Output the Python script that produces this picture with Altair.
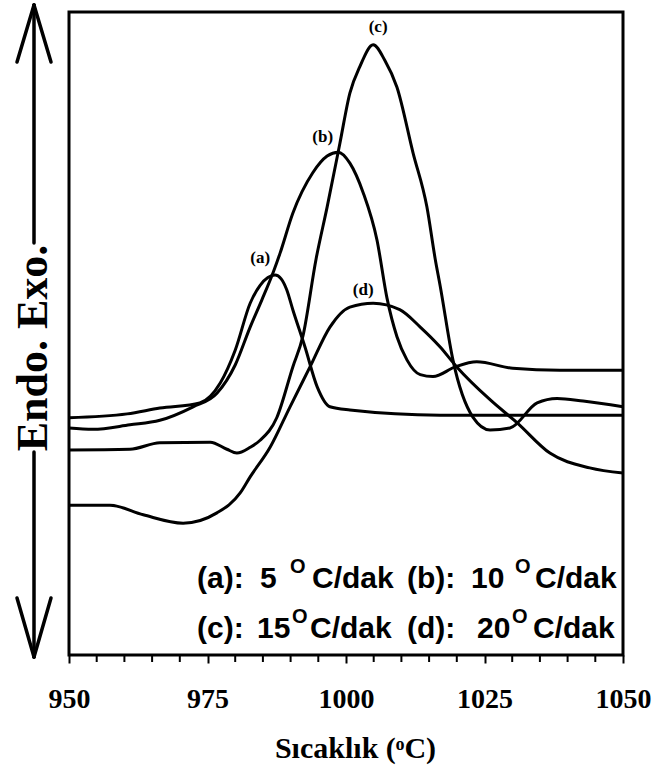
import altair as alt
import pandas as pd

# ---- data (temperature in °C, heat flow in arbitrary units) ----
a_T = [950.0, 960.5, 966.4, 973.6, 977.3, 980.0, 982.7, 984.5, 985.9, 987.2, 988.3, 989.3, 990.4, 992.6, 994.8, 997.1, 1000.7, 1017.0, 1050.0]
a_v = [36.9, 37.5, 38.4, 39.2, 42.3, 47.4, 54.7, 57.5, 58.7, 59.1, 58.5, 56.8, 53.7, 47.9, 41.7, 38.6, 38.1, 37.3, 37.3]

b_T = [950.0, 954.3, 961.0, 966.4, 972.4, 976.7, 980.0, 982.7, 984.8, 986.9, 988.1, 990.4, 994.0, 996.6, 998.6, 1000.7, 1003.1, 1005.6, 1007.4, 1009.2, 1011.0, 1013.4, 1015.7, 1019.7, 1023.6, 1030.1, 1038.6, 1050.0]
b_v = [35.3, 35.1, 35.8, 36.5, 38.6, 40.7, 45.1, 51.0, 55.2, 59.6, 62.5, 68.7, 75.0, 77.6, 78.2, 76.5, 71.9, 64.5, 55.5, 49.5, 45.9, 43.6, 43.3, 44.8, 45.6, 44.6, 44.3, 44.3]

c_T = [950.0, 961.0, 966.4, 975.5, 978.5, 980.3, 982.7, 984.5, 987.5, 990.4, 992.2, 994.6, 996.6, 998.9, 1000.7, 1002.5, 1004.9, 1007.0, 1009.2, 1012.1, 1014.6, 1016.1, 1017.0, 1019.3, 1022.9, 1026.0, 1029.6, 1034.5, 1038.1, 1042.8, 1050.0]
c_v = [31.9, 32.0, 33.0, 33.1, 32.0, 31.4, 32.3, 33.4, 36.9, 44.8, 49.5, 61.6, 69.7, 79.6, 87.4, 91.5, 94.9, 92.5, 88.3, 78.1, 69.7, 61.6, 57.4, 45.9, 37.0, 35.0, 35.3, 39.2, 39.9, 39.5, 38.6]

d_T = [950.0, 957.4, 963.4, 970.6, 976.7, 980.9, 982.7, 986.3, 989.9, 993.5, 997.1, 1000.7, 1004.9, 1009.7, 1013.4, 1017.0, 1020.0, 1026.0, 1030.9, 1036.8, 1044.0, 1050.0]
d_v = [23.3, 23.3, 21.8, 20.5, 22.1, 25.2, 27.7, 32.3, 38.6, 44.8, 51.0, 54.1, 54.7, 53.7, 51.0, 47.9, 44.8, 39.7, 36.1, 31.4, 29.1, 28.3]

peak_labels = ["(a)", "(b)", "(c)", "(d)"]
peak_label_T = [984.5, 995.8, 1005.8, 1003.1]
peak_label_v = [61.7, 80.6, 97.7, 56.8]

major_ticks = [950, 975, 1000, 1025, 1050]
minor_ticks = [t for t in range(950, 1051, 5) if t % 25 != 0]

# ---- tables ----
rows = []
for name, T, v in (("a", a_T, a_v), ("b", b_T, b_v), ("c", c_T, c_v), ("d", d_T, d_v)):
    for t, val in zip(T, v):
        rows.append({"series": name, "T": t, "v": val})
df = pd.DataFrame(rows)
lab_df = pd.DataFrame({"label": peak_labels, "T": peak_label_T, "v": peak_label_v})
minor_df = pd.DataFrame({"T": minor_ticks})

xscale = alt.Scale(domain=[950, 1050], nice=False, zero=False)
yscale = alt.Scale(domain=[0, 100], nice=False, zero=False)

major_axis = alt.Axis(
    values=major_ticks, orient="bottom", format="d", tickSize=8, tickWidth=2, tickColor="black",
    domain=False, grid=False, labelFont="Liberation Serif", labelFontWeight="bold",
    labelFontSize=28, labelColor="black", labelPadding=22, labelFlush=False,
    title="Sıcaklık (ᵒC)", titleFont="Liberation Serif", titleFontWeight="bold",
    titleFontSize=30, titleColor="black", titleX=286, titleY=102,
    titleBaseline="alphabetic", titleAlign="center",
)

curves = alt.Chart(df).mark_line(color="black", strokeWidth=3, interpolate="monotone").encode(
    x=alt.X("T:Q", scale=xscale, axis=major_axis),
    y=alt.Y("v:Q", scale=yscale, axis=None),
    detail="series:N",
)

minor = alt.Chart(minor_df).mark_rule(color="black", strokeWidth=2).encode(
    x=alt.X("T:Q", scale=xscale, axis=None),
    y=alt.value(643),
    y2=alt.value(650),
)

labels = alt.Chart(lab_df).mark_text(
    font="Liberation Serif", fontWeight="bold", fontSize=17, color="black",
    align="center", baseline="middle",
).encode(
    x=alt.X("T:Q", scale=xscale, axis=None),
    y=alt.Y("v:Q", scale=yscale, axis=None),
    text="label:N",
)

one = pd.DataFrame({"k": [0]})


def txt(s, x, y, size, align="left", font="Liberation Sans", angle=0, baseline="alphabetic"):
    kw = dict(text=s, font=font, fontWeight="bold", fontSize=size, color="black",
              align=align, baseline=baseline)
    if angle:
        kw["angle"] = angle
    return alt.Chart(one).mark_text(**kw).encode(x=alt.value(x), y=alt.value(y))


def seg(x1, y1, x2, y2):
    return alt.Chart(one).mark_rule(color="black", strokeWidth=3.5, strokeCap="round").encode(
        x=alt.value(x1), y=alt.value(y1), x2=alt.value(x2), y2=alt.value(y2))


legend_parts = [
    txt("(a):", 128, 576, 30),
    txt("5", 191, 576, 30),
    txt("O", 221, 561, 20),
    txt("C/dak", 243, 576, 30),
    txt("(b):", 338, 576, 30),
    txt("10", 402, 576, 30),
    txt("O", 446, 561, 20),
    txt("C/dak", 466, 576, 30),
    txt("(c):", 128, 626, 30),
    txt("15", 188, 626, 30),
    txt("O", 223, 611, 20),
    txt("C/dak", 241, 626, 30),
    txt("(d):", 338, 626, 30),
    txt("20", 408, 626, 30),
    txt("O", 443, 611, 20),
    txt("C/dak", 464, 626, 30),
]

arrow_parts = [
    seg(-35, -7, -35, 231),
    seg(-35, -7, -52, 50),
    seg(-35, -7, -18, 50),
    seg(-35, 440, -35, 645),
    seg(-35, 645, -52, 586),
    seg(-35, 645, -18, 586),
    txt("Endo. Exo.", -35, 336, 44, align="center", font="Liberation Serif", angle=270, baseline="middle"),
]

chart = alt.layer(curves, minor, labels, *legend_parts, *arrow_parts).resolve_axis(
    x="independent"
).properties(
    width=554, height=643,
    autosize=alt.AutoSizeParams(type="none"),
    padding={"left": 69, "top": 12, "right": 35, "bottom": 115},
    background="white",
).configure_view(stroke="black", strokeWidth=3)

chart.save("out.html", embed_options={"renderer": "svg", "actions": False})
